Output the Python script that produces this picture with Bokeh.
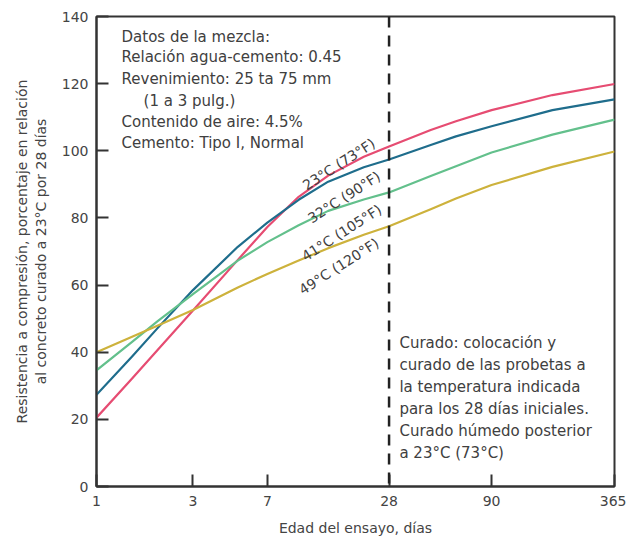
from bokeh.plotting import figure
from bokeh.models import FixedTicker, Span, NumeralTickFormatter
from bokeh.core.properties import value
from bokeh.embed import file_html
from bokeh.resources import INLINE

# ---- data ----
days = [1, 1.5, 2, 3, 5, 7, 10, 14, 21, 28, 45, 60, 90, 180, 365]
t23 = [20.5, 32.2, 40.6, 52.4, 67.5, 77.3, 86.3, 92.6, 98.2, 101.3, 106.2, 108.8, 112.1, 116.6, 119.9]
t32 = [27.3, 38.7, 47.1, 58.5, 71.4, 78.6, 85.4, 90.8, 95.1, 97.4, 101.7, 104.3, 107.3, 112.1, 115.3]
t41 = [34.6, 43.1, 49.2, 57.3, 67.3, 72.8, 77.8, 82.1, 85.5, 87.6, 92.5, 95.4, 99.5, 104.8, 109.3]
t49 = [40.0, 44.6, 47.9, 52.6, 59.3, 63.3, 67.3, 71.0, 75.0, 77.5, 82.6, 85.8, 89.8, 95.2, 99.8]

series_labels = ["23°C (73°F)", "32°C (90°F)", "41°C (105°F)", "49°C (120°F)"]
x_ticks = [1, 3, 7, 28, 90, 365]
y_ticks = [0, 20, 40, 60, 80, 100, 120, 140]
curing_day = 28

mix_lines = [
    "Datos de la mezcla:",
    "Relación agua-cemento: 0.45",
    "Revenimiento: 25 ta 75 mm",
    "(1 a 3 pulg.)",
    "Contenido de aire: 4.5%",
    "Cemento: Tipo I, Normal",
]
cure_lines = [
    "Curado: colocación y",
    "curado de las probetas a",
    "la temperatura indicada",
    "para los 28 días iniciales.",
    "Curado húmedo posterior",
    "a 23°C (73°C)",
]

FONT = "DejaVu Sans"
TXT = "#404040"

p = figure(width=626, height=540, x_axis_type="log", x_range=(1, 365), y_range=(0, 140),
           output_backend="svg", toolbar_location=None,
           min_border_left=96, min_border_top=16, min_border_right=12, min_border_bottom=54)
p.background_fill_color = "white"
p.border_fill_color = "white"
p.grid.visible = False
p.outline_line_color = "#333333"
p.outline_line_width = 2

for ax in (p.xaxis[0], p.yaxis[0]):
    ax.axis_line_color = "#333333"
    ax.axis_line_width = 2
    ax.major_tick_line_color = "#333333"
    ax.major_tick_line_width = 2
    ax.major_tick_in = 12
    ax.major_tick_out = 0
    ax.minor_tick_line_color = None
    ax.major_label_text_font = FONT
    ax.major_label_text_font_size = "14px"
    ax.major_label_text_color = "#444444"
    ax.axis_label_text_font = FONT
    ax.axis_label_text_font_style = "normal"
    ax.axis_label_text_color = "#444444"

p.xaxis.ticker = FixedTicker(ticks=x_ticks)
p.xaxis.formatter = NumeralTickFormatter(format="0")
p.xaxis.major_label_overrides = {t: str(t) for t in x_ticks}
p.xaxis.axis_label = "Edad del ensayo, días"
p.xaxis.axis_label_text_font_size = "14px"
p.xaxis.major_label_standoff = 9
p.xaxis.axis_label_standoff = 11

p.yaxis.ticker = FixedTicker(ticks=y_ticks)
p.yaxis.axis_label = "Resistencia a compresión, porcentaje en relación\nal concreto curado a 23°C por 28 días"
p.yaxis.axis_label_text_font_size = "14px"
p.yaxis.major_label_standoff = 8
p.yaxis.axis_label_standoff = 10

colors = ["#e64c72", "#1f6d8c", "#63c08c", "#cdb23c"]
for ys, c in zip([t23, t32, t41, t49], colors):
    p.line(days, ys, line_color=c, line_width=2.2, line_join="round")

p.add_layout(Span(location=curing_day, dimension="height", line_color="#222222",
                  line_width=2.5, line_dash="11 8"))

# mix-data text block (top left)
p.text(x=[1.33] * len(mix_lines), y=[134.0, 127.8, 121.5, 114.9, 108.6, 102.4],
       x_offset=[0, 0, 0, 22, 0, 0],
       text=mix_lines, text_font=value(FONT), text_font_size="15px",
       text_color=TXT, text_baseline="middle", text_align="left")

# curing text block (bottom right)
p.text(x=[31.5] * len(cure_lines), y=[42.6 - 6.5 * i for i in range(len(cure_lines))],
       text=cure_lines, text_font=value(FONT), text_font_size="15px",
       text_color=TXT, text_baseline="middle", text_align="left")

# rotated curve labels
p.text(x=[15.8, 16.8, 16.3, 15.8], y=[96.0, 86.2, 75.6, 65.6], text=series_labels,
       angle=0.57, text_font=value(FONT), text_font_size="14px",
       text_color=TXT, text_baseline="middle", text_align="center")

open("out.html", "w").write(file_html(p, INLINE))
